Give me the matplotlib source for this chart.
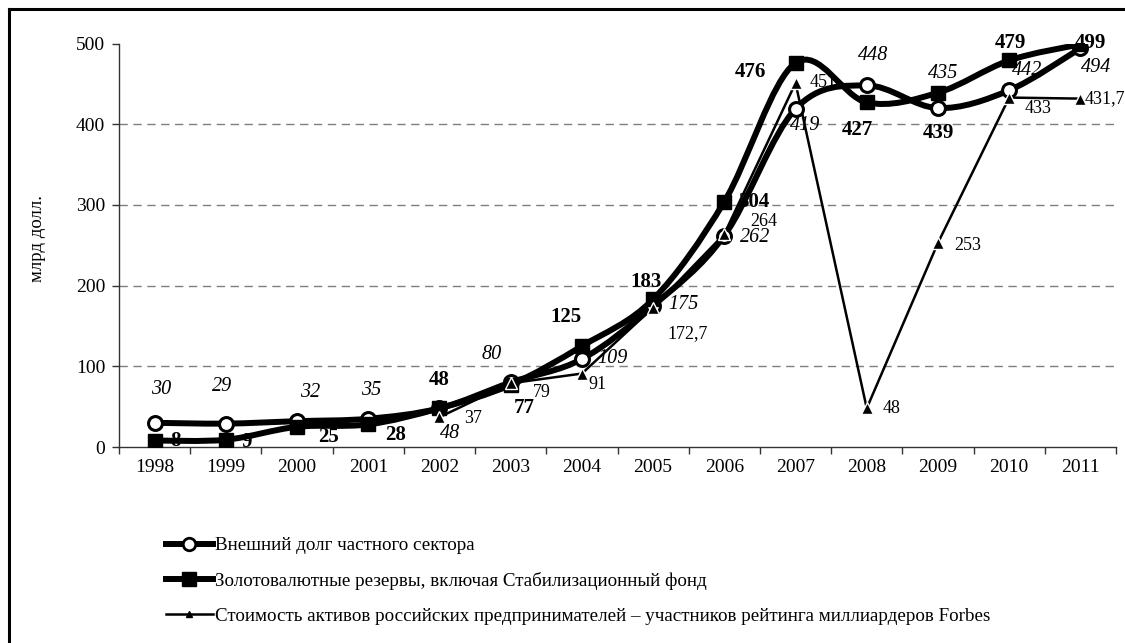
import numpy as np
import matplotlib
matplotlib.use("Agg")
import matplotlib.pyplot as plt
from matplotlib.path import Path
from matplotlib.patches import PathPatch
from matplotlib.lines import Line2D

# ---------------- data ----------------
years = ["1998", "1999", "2000", "2001", "2002", "2003", "2004",
         "2005", "2006", "2007", "2008", "2009", "2010", "2011"]
debt = [30, 29, 32, 35, 48, 80, 109, 175, 262, 419, 448, 420, 442, 494]
debt_labels = ["30", "29", "32", "35", "48", "80", "109", "175", "262",
               "419", "448", "435", "442", "494"]
reserves = [8, 9, 25, 28, 48, 77, 125, 183, 304, 476, 427, 439, 479, 499]
reserves_labels = ["8", "9", "25", "28", "48", "77", "125", "183", "304",
                   "476", "427", "439", "479", "499"]
forbes = [np.nan, np.nan, np.nan, np.nan, 37, 79, 91, 172.7, 264, 451,
          48, 253, 433, 431.7]
forbes_labels = ["", "", "", "", "37", "79", "91", "172,7", "264", "451",
                 "48", "253", "433", "431,7"]
series_names = [
    "Внешний долг частного сектора",
    "Золотовалютные резервы, включая Стабилизационный фонд",
    "Стоимость активов российских предпринимателей – участников рейтинга миллиардеров Forbes",
]
y_label = "млрд долл."

# ---------------- layout / style ----------------
# label offsets in pixels (dx right, dy down)
debt_off = [(7, -33), (-4, -37), (13, -29), (3, -28), (11, 25), (-19, -28),
            (31, -1), (30, -1), (31, 2), (10, 17), (6, -30), (5, -35),
            (18, -20), (16, 19)]
res_off = [(21, 0), (21, 2), (31, 10), (27, 11), (0, -28), (14, 23),
           (-16, -29), (-7, -17), (29, 0), (-45, 9), (-9, 28), (0, 40),
           (1, -17), (10, -1)]
frb_off = [None, None, None, None, (34, 1), (31, 9), (16, 11), (34, 26),
           (39, -12), (28, -1), (25, 0), (30, 3), (29, 11), (4, 0)]

SERIF = "Liberation Serif"
plt.rcParams["font.family"] = [SERIF, "DejaVu Serif"]

W, H = 1125, 643
fig = plt.figure(figsize=(W / 100, H / 100), dpi=100)
ax = fig.add_axes([119 / W, 1 - 447 / H, (1116 - 119) / W, (447 - 43.5) / H])

x = np.arange(len(years))
ax.set_xlim(-0.5, len(years) - 0.5)
ax.set_ylim(0, 500)


def smooth_path(xs, ys):
    pts = np.column_stack([xs, ys]).astype(float)
    n = len(pts)
    verts = [pts[0]]
    codes = [Path.MOVETO]
    for i in range(n - 1):
        p0 = pts[i - 1] if i > 0 else pts[i]
        p1 = pts[i]
        p2 = pts[i + 1]
        p3 = pts[i + 2] if i + 2 < n else pts[i + 1]
        c1 = p1 + (p2 - p0) / 6.0
        c2 = p2 - (p3 - p1) / 6.0
        verts += [c1, c2, p2]
        codes += [Path.CURVE4] * 3
    return Path(verts, codes)


LW_THICK = 4.3
# gridlines
for v in [100, 200, 300, 400]:
    ax.axhline(v, color="#7f7f7f", lw=1.0, ls=(0, (6, 4)), zorder=0.5)

# debt (smoothed, circles)
ax.add_patch(PathPatch(smooth_path(x, debt), fill=False, lw=LW_THICK,
                       edgecolor="black", capstyle="round", joinstyle="round",
                       zorder=3))
ax.plot(x, debt, ls="none", marker="o", ms=10, mfc="white", mec="black",
        mew=2.2, zorder=5)

# reserves (smoothed, squares)
ax.add_patch(PathPatch(smooth_path(x, reserves), fill=False, lw=LW_THICK,
                       edgecolor="black", capstyle="round", joinstyle="round",
                       zorder=3))
ax.plot(x, reserves, ls="none", marker="s", ms=10.5, mfc="black",
        mec="black", zorder=5)

# forbes (straight, triangles)
ax.plot(x, forbes, color="black", lw=1.8, zorder=4)
ax.plot(x, forbes, ls="none", marker="^", ms=9, mfc="black", mec="white",
        mew=1.0, zorder=6)

# data labels
FS_IT, FS_BD, FS_RG = 14.5, 15, 13
last = len(years) - 1
for i in range(len(years)):
    ax.annotate(debt_labels[i], (x[i], debt[i]), xytext=(debt_off[i][0], -debt_off[i][1]),
                textcoords="offset pixels", ha="center", va="center",
                fontsize=FS_IT, style="italic", zorder=2, family=SERIF)
    ax.annotate(reserves_labels[i], (x[i], reserves[i]),
                xytext=(res_off[i][0], -res_off[i][1]),
                textcoords="offset pixels", ha="center", va="center",
                fontsize=FS_BD, weight="bold", zorder=2, family=SERIF)
    if forbes_labels[i]:
        ax.annotate(forbes_labels[i], (x[i], forbes[i]),
                    xytext=(frb_off[i][0], -frb_off[i][1]),
                    textcoords="offset pixels",
                    ha="left" if i == last else "center", va="center",
                    fontsize=FS_RG, zorder=2, family=SERIF)

# axes styling
for s in ["top", "right"]:
    ax.spines[s].set_visible(False)
for s in ["left", "bottom"]:
    ax.spines[s].set_color("#333333")
    ax.spines[s].set_linewidth(1.0)
ax.set_yticks([0, 100, 200, 300, 400, 500])
ax.set_yticklabels(["0", "100", "200", "300", "400", "500"])
ax.set_xticks(x)
ax.set_xticklabels(years)
ax.set_xticks(np.arange(-0.5, len(years)), minor=True)
ax.tick_params(axis="x", which="major", length=0, pad=9, labelsize=14)
ax.tick_params(axis="x", which="minor", length=5, direction="out",
               color="#333333", width=1.0)
ax.tick_params(axis="y", length=5, direction="out", color="#333333",
               width=1.0, labelsize=14, pad=5)
ax.set_ylabel(y_label, fontsize=13.5)
ax.yaxis.set_label_coords((46 - 119) / (1116 - 119), (447 - 238) / (447 - 43.5))

# legend
handles = [
    Line2D([], [], color="black", lw=LW_THICK, marker="o", ms=9,
           mfc="white", mec="black", mew=2),
    Line2D([], [], color="black", lw=LW_THICK, marker="s", ms=10,
           mfc="black", mec="black"),
    Line2D([], [], color="black", lw=1.8, marker="^", ms=5,
           mfc="black", mec="black"),
]
fig.legend(handles, series_names, loc="upper left",
           bbox_to_anchor=(166 / W, 1 - 537 / H), frameon=False,
           fontsize=13.7, handlelength=2.45, handletextpad=0.1,
           labelspacing=0.93, borderpad=0, borderaxespad=0)

# outer frame (top and left)
fig.add_artist(Line2D([8.5 / W, 8.5 / W], [0, 1 - 8.5 / H], color="black",
                      lw=2.2, transform=fig.transFigure))
fig.add_artist(Line2D([8.5 / W, 1], [1 - 8.5 / H, 1 - 8.5 / H], color="black",
                      lw=2.2, transform=fig.transFigure))

fig.savefig("out.png", dpi=100)
